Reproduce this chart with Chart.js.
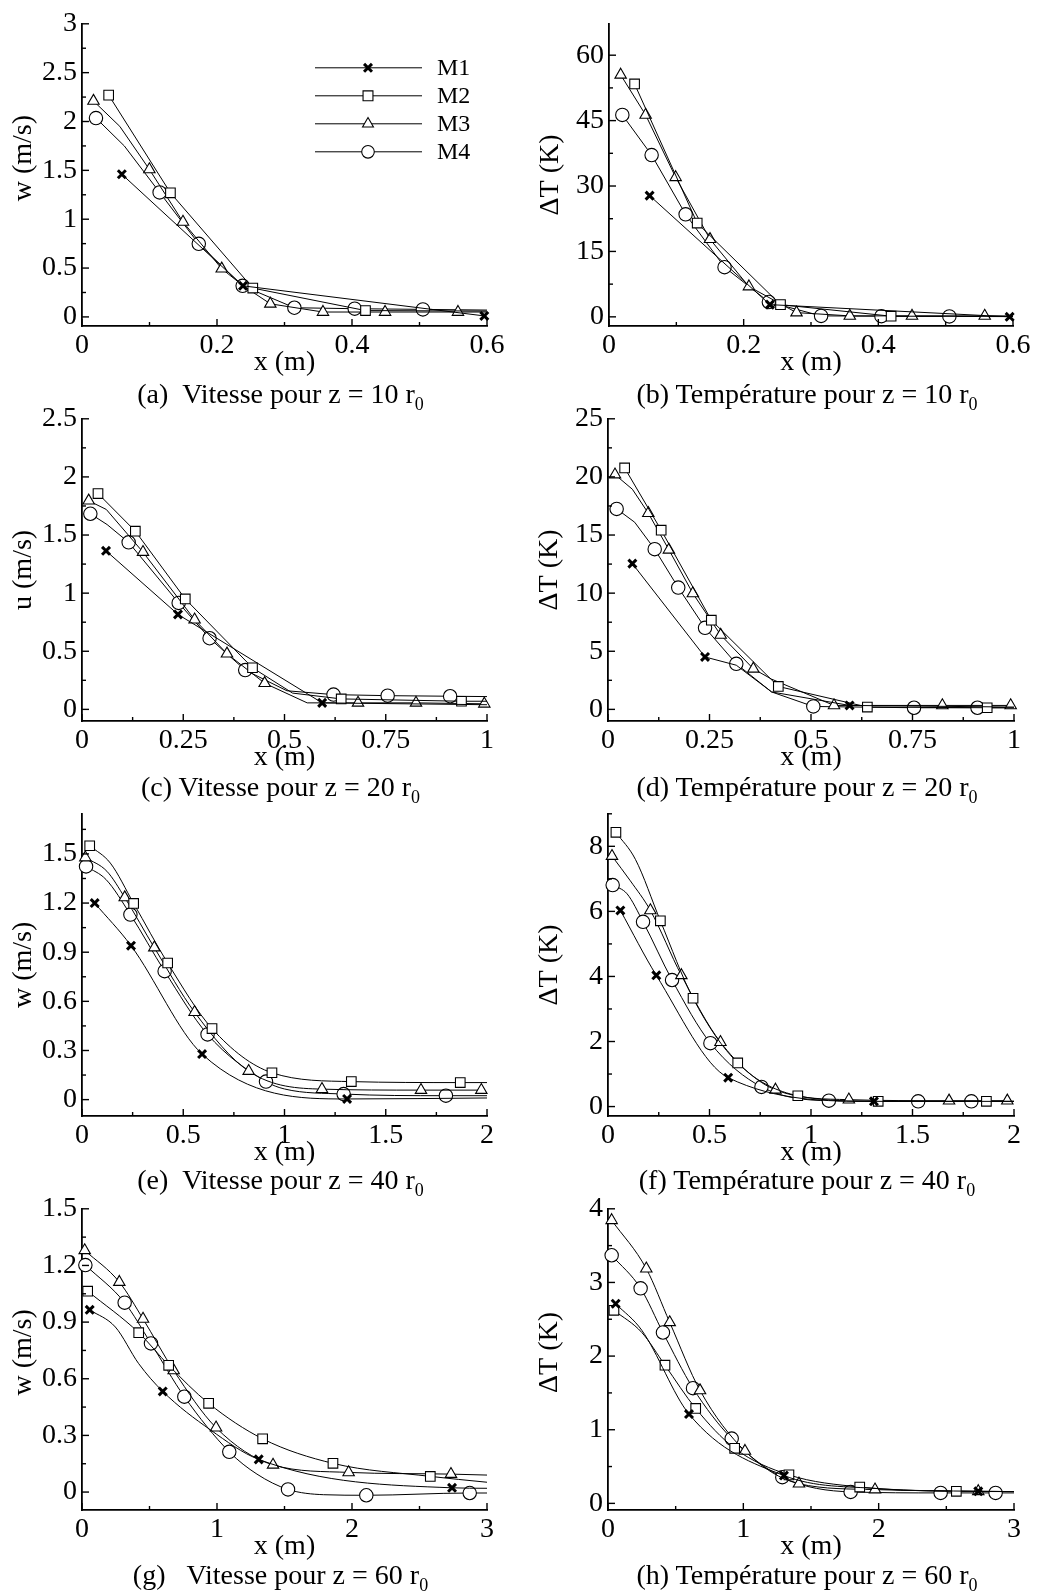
<!DOCTYPE html>
<html>
<head>
<meta charset="utf-8">
<script src="https://cdn.jsdelivr.net/npm/chart.js@4.4.1/dist/chart.umd.min.js"></script>
<style>
  body { margin: 0; background: #fff; width: 1037px; height: 1591px; position: relative; overflow: hidden; }
  canvas { position: absolute; }
  .cap { position: absolute; font: 28px/28px 'Liberation Serif', 'Times New Roman', serif; white-space: nowrap; transform: translateX(-50%); color: #000; }
  .cap sub { font-size: 18px; line-height: 0; vertical-align: -7px; }
</style>
</head>
<body>
<script>
// ---- data: [x, y] = marked point, [x, y, 0] = line vertex without marker ----
const seriesNames = ['M1', 'M2', 'M3', 'M4'];

// (a) vitesse z = 10 r0
const aM1 = [[0.059,1.46],[0.2385,0.318],[0.596,0.01]];
const aM2 = [[0.0395,2.27],[0.131,1.27],[0.253,0.295],[0.42,0.065],[0.6,0.06,0]];
const aM3 = [[0.017,2.21],[0.056,1.95,0],[0.0998,1.51],[0.1496,0.972],[0.207,0.493],[0.2385,0.32,0],[0.279,0.134],[0.357,0.05],[0.449,0.05],[0.557,0.05],[0.6,0.05,0]];
const aM4 = [[0.0207,2.035],[0.0627,1.75,0],[0.115,1.274],[0.173,0.748],[0.238,0.318],[0.3146,0.094],[0.404,0.084],[0.505,0.077],[0.6,0.07,0]];
// (b) temperature z = 10 r0
const bM1 = [[0.0603,27.8],[0.239,2.8],[0.595,0]];
const bM2 = [[0.038,53.4],[0.131,21.5],[0.2547,2.8],[0.419,0.15],[0.6,0.1,0]];
const bM3 = [[0.0173,55.5],[0.0544,46.3],[0.099,32.0],[0.15,17.8],[0.2078,6.95],[0.2785,0.97],[0.3576,0.22],[0.45,0.22],[0.558,0.22],[0.6,0.2,0]];
const bM4 = [[0.0198,46.3],[0.0633,37.1],[0.1138,23.5],[0.1716,11.4],[0.2374,3.4],[0.315,0.22],[0.4046,0.15],[0.5055,0.1],[0.6,0.05,0]];
// (c) vitesse z = 20 r0
const cM1 = [[0.0593,1.364],[0.237,0.817],[0.593,0.056],[1,0.04,0]];
const cM2 = [[0.0395,1.857],[0.1317,1.533],[0.255,0.95],[0.421,0.358],[0.52,0.14,0],[0.64,0.09],[0.937,0.07],[1,0.07,0]];
const cM3 = [[0.0165,1.795],[0.06,1.72,0],[0.1506,1.353],[0.278,0.772],[0.358,0.479],[0.451,0.225],[0.556,0.056,0],[0.6815,0.056],[0.8247,0.056],[0.9934,0.048]];
const cM4 = [[0.0206,1.683],[0.062,1.59,0],[0.1152,1.437],[0.2387,0.916],[0.315,0.612],[0.403,0.338],[0.506,0.16,0],[0.621,0.127],[0.7547,0.118],[0.909,0.113],[1,0.11,0]];
// (d) temperature z = 20 r0
const dM1 = [[0.06,12.54],[0.239,4.51],[0.316,3.8,0],[0.403,1.5,0],[0.595,0.34],[1,0.2,0]];
const dM2 = [[0.041,20.77],[0.131,15.42],[0.2545,7.67],[0.4195,1.97],[0.6388,0.2],[0.934,0.14],[1,0.14,0]];
const dM3 = [[0.0172,20.2],[0.06,18.94,0],[0.0993,16.88],[0.15,13.73],[0.209,9.98],[0.2775,6.4],[0.358,3.49],[0.403,2.6,0],[0.5567,0.34],[0.8235,0.34],[0.9918,0.34]];
const dM4 = [[0.0213,17.25],[0.0657,16.1,0],[0.115,13.78],[0.173,10.48],[0.239,7.02],[0.316,3.92],[0.403,1.5,0],[0.5057,0.25],[0.7537,0.14],[0.91,0.14],[1,0.14,0]];
// (e) vitesse z = 40 r0
const eM1 = [[0.0626,1.2],[0.242,0.94],[0.593,0.278],[1.309,0.004],[2,0.01,0]];
const eM2 = [[0.038,1.55],[0.14,1.444,0],[0.255,1.198],[0.423,0.834],[0.642,0.434],[0.938,0.164],[1.33,0.11],[1.868,0.104],[2,0.104,0]];
const eM3 = [[0.0165,1.478],[0.123,1.394,0],[0.211,1.234],[0.357,0.928],[0.556,0.534],[0.823,0.174],[1.185,0.064],[1.674,0.058],[1.972,0.058]];
const eM4 = [[0.02,1.424],[0.1185,1.344,0],[0.239,1.13],[0.408,0.784],[0.62,0.398],[0.9086,0.11],[1.0,0.065,0],[1.292,0.034],[1.797,0.024],[2,0.024,0]];
// (f) temperature z = 40 r0
const fM1 = [[0.061,6.03],[0.238,4.035],[0.592,0.888],[1.31,0.161],[2,0.16,0]];
const fM2 = [[0.039,8.43],[0.135,7.6,0],[0.258,5.71],[0.419,3.33],[0.639,1.34],[0.935,0.333],[1.331,0.161],[1.864,0.161],[2,0.161,0]];
const fM3 = [[0.0197,7.7],[0.11,6.94,0],[0.2087,6.03],[0.3615,4.035],[0.554,1.98],[0.825,0.515],[1.1865,0.212],[1.68,0.18],[1.967,0.18]];
const fM4 = [[0.023,6.81],[0.094,6.54,0],[0.1726,5.68],[0.3155,3.89],[0.5045,1.95],[0.756,0.605],[1.088,0.18],[1.528,0.161],[1.79,0.161],[2,0.161,0]];
// (g) vitesse z = 60 r0
const gM1 = [[0.057,0.965],[0.247,0.874,0],[0.42,0.68,0],[0.598,0.533],[0.95,0.33,0],[1.309,0.173],[2.741,0.0225],[3,0.02,0]];
const gM2 = [[0.042,1.064],[0.42,0.844],[0.642,0.671],[0.938,0.47],[1.338,0.282],[1.859,0.152],[2.58,0.083],[3,0.052,0]];
const gM3 = [[0.02,1.28],[0.2765,1.112],[0.452,0.917],[0.679,0.644],[0.993,0.341],[1.415,0.144],[1.975,0.104],[2.733,0.095],[3,0.09,0]];
const gM4 = [[0.025,1.202],[0.316,1.003],[0.511,0.787],[0.758,0.505],[1.091,0.213],[1.296,0.095,0],[1.526,0.014],[1.79,-0.014,0],[2.106,-0.017],[2.872,-0.005],[3,-0.005,0]];
// (h) temperature z = 60 r0
const hM1 = [[0.0567,2.711],[0.25,2.35,0],[0.5985,1.213],[1.3,0.378],[2.0,0.2,0],[2.736,0.164],[3,0.16,0]];
const hM2 = [[0.044,2.622],[0.25,2.32,0],[0.421,1.876],[0.648,1.289],[0.936,0.747],[1.337,0.387],[1.86,0.222],[2.574,0.164],[3,0.16,0]];
const hM3 = [[0.027,3.844],[0.283,3.187],[0.456,2.458],[0.68,1.533],[1.012,0.711],[1.411,0.267],[1.973,0.187],[2.736,0.164],[3,0.16,0]];
const hM4 = [[0.027,3.369],[0.241,2.92],[0.406,2.32],[0.628,1.564],[0.914,0.88],[1.288,0.356],[1.793,0.156],[2.458,0.142],[2.864,0.142],[3,0.142,0]];

// tick labels
const xTicks06 = [0, 0.2, 0.4, 0.6];
const xTicks1 = [0, 0.25, 0.5, 0.75, 1];
const xTicks2 = [0, 0.5, 1, 1.5, 2];
const xTicks3 = [0, 1, 2, 3];
const yTicksA = [0, 0.5, 1, 1.5, 2, 2.5, 3];
const yTicksB = [0, 15, 30, 45, 60];
const yTicksC = [0, 0.5, 1, 1.5, 2, 2.5];
const yTicksD = [0, 5, 10, 15, 20, 25];
const yTicksE = [0, 0.3, 0.6, 0.9, 1.2, 1.5];
const yTicksF = [0, 2, 4, 6, 8];
const yTicksG = [0, 0.3, 0.6, 0.9, 1.2, 1.5];
const yTicksH = [0, 1, 2, 3, 4];

const yTitles = ['w (m/s)', 'ΔT (K)', 'u (m/s)', 'ΔT (K)', 'w (m/s)', 'ΔT (K)', 'w (m/s)', 'ΔT (K)'];
const captions = [
  '(a)&nbsp;&nbsp;Vitesse pour z = 10 r', '(b) Température pour z = 10 r',
  '(c) Vitesse pour z = 20 r', '(d) Température pour z = 20 r',
  '(e)&nbsp;&nbsp;Vitesse pour z = 40 r', '(f) Température pour z = 40 r',
  '(g)&nbsp;&nbsp;&nbsp;Vitesse pour z = 60 r', '(h) Température pour z = 60 r'
];

// ---- layout (page pixels of each plot area; lift = leading space that raises the y title) ----
const panels = [
  { box: [82, 18, 487, 326],    series: [aM1, aM2, aM3, aM4], xt: xTicks06, yt: yTicksA, ymin: -0.093, ymax: 3,    smooth: false, legend: true, lift: '\u2003\u2009' },
  { box: [609, 18, 1013, 326],  series: [bM1, bM2, bM3, bM4], xt: xTicks06, yt: yTicksB, ymin: -2.1,   ymax: 67.2, smooth: false },
  { box: [82, 413, 487, 721],   series: [cM1, cM2, cM3, cM4], xt: xTicks1,  yt: yTicksC, ymin: -0.1,   ymax: 2.5,  smooth: false },
  { box: [608, 413, 1014, 721], series: [dM1, dM2, dM3, dM4], xt: xTicks1,  yt: yTicksD, ymin: -1.0,   ymax: 25,   smooth: false },
  { box: [82, 808, 487, 1116],  series: [eM1, eM2, eM3, eM4], xt: xTicks2,  yt: yTicksE, ymin: -0.1,   ymax: 1.745, smooth: true },
  { box: [608, 808, 1014, 1116], series: [fM1, fM2, fM3, fM4], xt: xTicks2, yt: yTicksF, ymin: -0.29,  ymax: 9.0,  smooth: true },
  { box: [82, 1203, 487, 1510], series: [gM1, gM2, gM3, gM4], xt: xTicks3,  yt: yTicksG, ymin: -0.095, ymax: 1.5,  smooth: true, lift: '\u2002' },
  { box: [608, 1203, 1014, 1510], series: [hM1, hM2, hM3, hM4], xt: xTicks3, yt: yTicksH, ymin: -0.09,  ymax: 4,    smooth: true, lift: '\u2002' }
];
const captionTops = [380, 773, 1166, 1561];

const YW = 82, XH = 54, PT = 16, PR = 24;
const FONT = "'Liberation Serif', 'Times New Roman', serif";
const FS = 28;

const markers = [
  { pointStyle: 'crossRot', radius: 5.6, width: 3 },
  { pointStyle: 'rect', radius: 6.8, width: 1.1 },
  { pointStyle: 'triangle', radius: 6.6, width: 1.1 },
  { pointStyle: 'circle', radius: 6.7, width: 1.1 }
];

Chart.defaults.font.family = FONT;
Chart.defaults.color = '#000';

function drawMarker(ctx, m, x, y) {
  ctx.save();
  ctx.strokeStyle = '#000';
  ctx.fillStyle = '#fff';
  ctx.lineWidth = m.width;
  Chart.helpers.drawPoint(ctx, { pointStyle: m.pointStyle, radius: m.radius, borderWidth: m.width, rotation: 0 }, x, y);
  ctx.restore();
}

// inward major / minor ticks
const innerTicks = {
  id: 'innerTicks',
  afterDraw(chart) {
    const { ctx } = chart;
    ctx.save();
    ctx.strokeStyle = '#000';
    ctx.lineWidth = 1.4;
    ['x', 'y'].forEach(id => {
      const s = chart.scales[id];
      const vals = s.ticks.map(t => t.value);
      const step = vals[1] - vals[0];
      const marks = vals.map(v => [v, 7]);
      for (let k = -1; k < vals.length; k++) {
        const v = vals[0] + (k + 0.5) * step;
        if (v >= s.min - 1e-9 && v <= s.max + 1e-9) marks.push([v, 4]);
      }
      marks.forEach(([v, len]) => {
        const p = s.getPixelForValue(v);
        ctx.beginPath();
        if (id === 'x') {
          ctx.moveTo(p, chart.chartArea.bottom);
          ctx.lineTo(p, chart.chartArea.bottom - len);
        } else {
          ctx.moveTo(chart.chartArea.left, p);
          ctx.lineTo(chart.chartArea.left + len, p);
        }
        ctx.stroke();
      });
    });
    ctx.restore();
  }
};

// legend inside panel (a)
const insideLegend = {
  id: 'insideLegend',
  afterDraw(chart) {
    const { ctx, chartArea: a } = chart;
    ctx.save();
    seriesNames.forEach((name, i) => {
      const y = a.top + 44 + 28 * i;
      ctx.strokeStyle = '#000';
      ctx.lineWidth = 1;
      ctx.beginPath();
      ctx.moveTo(a.left + 233, y);
      ctx.lineTo(a.left + 340, y);
      ctx.stroke();
      const m = Object.assign({}, markers[i]);
      if (i > 0) m.radius = i === 1 ? 7 : 6.3;
      drawMarker(ctx, m, a.left + 286, y);
      ctx.fillStyle = '#000';
      ctx.font = '24px ' + FONT;
      ctx.textBaseline = 'middle';
      ctx.textAlign = 'left';
      ctx.fillText(name, a.left + 355, y + 1);
    });
    ctx.restore();
  }
};

panels.forEach((p, idx) => {
  const [L, T, R, B] = p.box;
  const cv = document.createElement('canvas');
  const W = R - L + YW + PR, H = B - T + PT + XH;
  cv.width = W; cv.height = H;
  cv.style.left = (L - YW) + 'px';
  cv.style.top = (T - PT) + 'px';
  cv.style.width = W + 'px'; cv.style.height = H + 'px';
  document.body.appendChild(cv);

  const cap = document.createElement('div');
  cap.className = 'cap';
  cap.innerHTML = captions[idx] + '<sub>0</sub>';
  cap.style.left = ((L + R) / 2 - 4) + 'px';
  cap.style.top = captionTops[Math.floor(idx / 2)] + 'px';
  document.body.appendChild(cap);

  const datasets = p.series.map((s, i) => ({
    label: seriesNames[i],
    data: s.map(q => ({ x: q[0], y: q[1], m: q.length > 2 ? q[2] : 1 })),
    borderColor: '#000',
    borderWidth: 1,
    backgroundColor: '#fff',
    pointStyle: markers[i].pointStyle,
    pointBorderColor: '#000',
    pointBackgroundColor: '#fff',
    pointBorderWidth: markers[i].width,
    pointRadius: c => (c.raw && c.raw.m === 0 ? 0 : markers[i].radius),
    cubicInterpolationMode: p.smooth ? 'monotone' : 'default',
    tension: 0,
    clip: 10
  }));

  new Chart(cv, {
    type: 'line',
    data: { datasets },
    plugins: p.legend ? [innerTicks, insideLegend] : [innerTicks],
    options: {
      responsive: false,
      animation: false,
      devicePixelRatio: 1,
      events: [],
      layout: { padding: { left: 0, top: PT, right: PR, bottom: 0 } },
      plugins: { legend: { display: false }, tooltip: { enabled: false } },
      scales: {
        x: {
          type: 'linear',
          min: 0, max: p.xt[p.xt.length - 1],
          afterBuildTicks: s => { s.ticks = p.xt.map(v => ({ value: v })); },
          afterFit: s => { s.height = XH; },
          grid: { display: false, drawTicks: false },
          border: { display: true, color: '#000', width: 1.8 },
          ticks: { autoSkip: false, maxRotation: 0, padding: 3, font: { size: FS }, color: '#000', callback: v => String(v) },
          title: { display: true, text: 'x (m)', font: { size: FS }, color: '#000', padding: { top: 0, bottom: 1 } }
        },
        y: {
          type: 'linear',
          min: p.ymin, max: p.ymax,
          afterBuildTicks: s => { s.ticks = p.yt.map(v => ({ value: v })); },
          afterFit: s => { s.width = YW; },
          grid: { display: false, drawTicks: false },
          border: { display: true, color: '#000', width: 1.8 },
          ticks: { autoSkip: false, padding: 5, font: { size: FS }, color: '#000', callback: v => String(v) },
          title: { display: true, text: (p.lift || '') + yTitles[idx], font: { size: FS }, color: '#000', padding: { top: 7, bottom: 0 } }
        }
      }
    }
  });
});
</script>
</body>
</html>
